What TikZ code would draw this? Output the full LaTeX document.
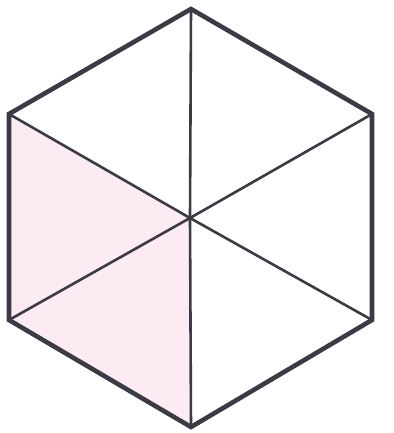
\documentclass[tikz,border=0pt]{standalone}
\begin{document}
\begin{tikzpicture}[x=1pt,y=-1pt,
  edge/.style={draw=hexgray,line width=2.6pt},
  rim/.style={draw=hexgray,line width=4.6pt,line join=miter},
  shade/.style={fill=pinkfill}]
\definecolor{hexgray}{HTML}{3C3B45}
\definecolor{pinkfill}{HTML}{FCEBF2}
\useasboundingbox (0,0) rectangle (393,433);
\coordinate (T) at (191,9);
\coordinate (UR) at (372,114);
\coordinate (LR) at (372,320);
\coordinate (B) at (191,427);
\coordinate (LL) at (9,320);
\coordinate (UL) at (9,114);
\coordinate (C) at (190,218);
\fill[shade] (UL) -- (C) -- (B) -- (LL) -- cycle;
\draw[edge] (C) -- (T);
\draw[edge] (C) -- (UR);
\draw[edge] (C) -- (LR);
\draw[edge] (C) -- (B);
\draw[edge] (C) -- (LL);
\draw[edge] (C) -- (UL);
\draw[rim] (T) -- (UR) -- (LR) -- (B) -- (LL) -- (UL) -- cycle;
\end{tikzpicture}
\end{document}
